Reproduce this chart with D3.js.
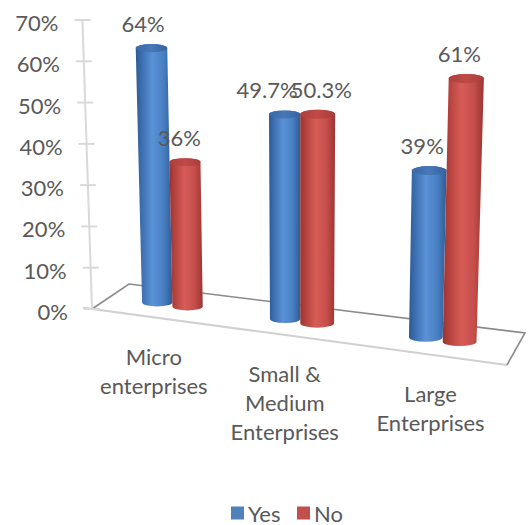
<!DOCTYPE html>
<html>
<head>
<meta charset="utf-8">
<script src="https://cdn.jsdelivr.net/npm/d3@7"></script>
<style>
  html, body { margin: 0; padding: 0; background: #ffffff; }
  svg { display: block; font-family: Lato, "Open Sans", "Liberation Sans", sans-serif; }
</style>
</head>
<body>
<svg id="chart" width="529" height="525"></svg>
<script>
// ---- data ----
const categories = ["Micro enterprises", "Small & Medium Enterprises", "Large Enterprises"];
const categoryLines = [["Micro", "enterprises"], ["Small &", "Medium", "Enterprises"], ["Large", "Enterprises"]];
const seriesNames = ["Yes", "No"];
const yesValues = [64, 49.7, 39];
const noValues = [36, 50.3, 61];
const yTicks = [0, 10, 20, 30, 40, 50, 60, 70];
const seriesColors = ["#4F81BD", "#C0504D"];

const seriesValues = { Yes: yesValues, No: noValues };
const fmtPct = v => (Number.isInteger(v) ? v : v.toFixed(1)) + "%";

const svg = d3.select("#chart");
const textColor = "#595959";
const fontSize = 22;

// ---- 3D-ish projection ----
// floor quadrilateral in screen space (back-left, back-right, front-left, front-right)
const floorQuad = { bl: [129, 284], br: [525, 333], fl: [92, 309], fr: [507, 365] };
function floorPoint(u, v) {
  const back = [floorQuad.bl[0] + (floorQuad.br[0] - floorQuad.bl[0]) * u,
                floorQuad.bl[1] + (floorQuad.br[1] - floorQuad.bl[1]) * u];
  const front = [floorQuad.fl[0] + (floorQuad.fr[0] - floorQuad.fl[0]) * u,
                 floorQuad.fl[1] + (floorQuad.fr[1] - floorQuad.fl[1]) * u];
  return [back[0] + (front[0] - back[0]) * v, back[1] + (front[1] - back[1]) * v];
}
// verticals converge slightly toward a point far below the chart
const vanishX = 300, vanishDist = 6300;
function raise(p, h) { return [p[0] + (p[0] - vanishX) * h / vanishDist, p[1] - h]; }

// value scale (pixels of height at the front-left corner) and depth gain across the floor
const y = d3.scaleLinear().domain([0, 70]).range([0, 289]);
const depthGain = d3.scaleLinear().domain([0, 1]).range([0.95, 1.06]);

// category / series positions along the floor
const x0 = d3.scaleBand().domain(categories).range([0, 1]).paddingInner(0.526).paddingOuter(0.263);
const x1 = d3.scaleBand().domain(seriesNames).range([0, x0.bandwidth()]);
const warp = d3.scaleLinear().domain([0, 0.5, 1]).range([-0.005, 0.468, 0.995]);

// ---- gradients ----
const defs = svg.append("defs");
const bodyStops = {
  Yes: [["0", "#2c5a95"], ["0.18", "#3e71b2"], ["0.45", "#5a92d7"], ["0.75", "#4a80c3"], ["1", "#2d5b96"]],
  No:  [["0", "#9a3431"], ["0.18", "#b8443f"], ["0.45", "#d75c57"], ["0.75", "#c64f4b"], ["1", "#9c3532"]]
};
const topStops = {
  Yes: [["0", "#3a68a6"], ["0.5", "#4878b8"], ["1", "#36639f"]],
  No:  [["0", "#ac3f3c"], ["0.5", "#bf4a46"], ["1", "#a83d3a"]]
};
seriesNames.forEach(s => {
  const g = defs.append("linearGradient").attr("id", "body-" + s).attr("x1", 0).attr("x2", 1).attr("y1", 0).attr("y2", 0);
  bodyStops[s].forEach(([o, c]) => g.append("stop").attr("offset", o).attr("stop-color", c));
  const t = defs.append("linearGradient").attr("id", "top-" + s).attr("x1", 0).attr("x2", 1).attr("y1", 0).attr("y2", 0);
  topStops[s].forEach(([o, c]) => t.append("stop").attr("offset", o).attr("stop-color", c));
});

// ---- floor ----
const floorG = svg.append("g");
const fq = floorQuad;
floorG.append("line")
  .attr("x1", fq.fl[0] - 9).attr("y1", fq.fl[1] - 9 * (fq.fr[1] - fq.fl[1]) / (fq.fr[0] - fq.fl[0]))
  .attr("x2", fq.fr[0]).attr("y2", fq.fr[1])
  .attr("stroke", "#d0d0d0").attr("stroke-width", 2);
floorG.append("path")
  .attr("d", d3.line()([fq.fl, fq.bl, fq.br, fq.fr]))
  .attr("fill", "none").attr("stroke", "#8a8a8a").attr("stroke-width", 1.6);

// ---- value axis ----
const axisG = svg.append("g");
const axisBase = fq.fl;
const axisTop = raise(axisBase, y(70));
axisG.append("line")
  .attr("x1", axisBase[0]).attr("y1", axisBase[1]).attr("x2", axisTop[0]).attr("y2", axisTop[1])
  .attr("stroke", "#d9d9d9").attr("stroke-width", 2);
yTicks.forEach(t => {
  const p = raise(axisBase, y(t));
  axisG.append("line")
    .attr("x1", p[0] - 8).attr("x2", p[0] + 8).attr("y1", p[1]).attr("y2", p[1])
    .attr("stroke", "#d9d9d9").attr("stroke-width", 2);
  axisG.append("text")
    .attr("x", p[0] - 24).attr("y", p[1] + 2.5)
    .attr("text-anchor", "end").attr("dominant-baseline", "central")
    .attr("fill", textColor).attr("font-size", fontSize)
    .text(t + "%");
});

// ---- cylinders ----
const ellipseRatio = 0.26;
const bars = [];
categories.forEach((cat, ci) => {
  seriesNames.forEach(s => {
    const uL = warp(x0(cat) + x1(s));
    const uR = warp(x0(cat) + x1(s) + x1.bandwidth());
    const uC = (uL + uR) / 2;
    const pL = floorPoint(uL, 0.5), pR = floorPoint(uR, 0.5);
    const base = floorPoint(uC, 0.5);
    const value = seriesValues[s][ci];
    const h = y(value) * depthGain(uC);
    const top = raise(base, h);
    const rb = (pR[0] - pL[0]) / 2;
    const rt = rb * (1 + h / vanishDist);
    bars.push({ cat, ci, s, value, base, top, rb, rt, h });
  });
});

const barG = svg.append("g");
bars.forEach(b => {
  const ryb = b.rb * ellipseRatio, ryt = b.rt * ellipseRatio;
  const [bx, by] = b.base, [tx, ty] = b.top;
  const d = `M${tx - b.rt},${ty} L${bx - b.rb},${by} A${b.rb},${ryb} 0 0 0 ${bx + b.rb},${by} ` +
            `L${tx + b.rt},${ty} A${b.rt},${ryt} 0 0 0 ${tx - b.rt},${ty} Z`;
  barG.append("path").attr("d", d).attr("fill", `url(#body-${b.s})`);
  barG.append("ellipse")
    .attr("cx", tx).attr("cy", ty).attr("rx", b.rt).attr("ry", ryt)
    .attr("fill", `url(#top-${b.s})`);
});

// ---- data labels ----
const labelG = svg.append("g");
const labelNodes = bars.map(b => {
  const t = labelG.append("text")
    .attr("x", b.top[0] - 7).attr("y", b.top[1] - 25)
    .attr("text-anchor", "middle").attr("dominant-baseline", "central")
    .attr("fill", textColor).attr("font-size", fontSize)
    .text(fmtPct(b.value));
  return { b, t, x: b.top[0] - 7, w: t.node().getComputedTextLength() };
});
// push apart labels within a group that collide
categories.forEach(cat => {
  const grp = labelNodes.filter(l => l.b.cat === cat);
  const a = grp[0], c = grp[1];
  const need = (a.w + c.w) / 2 - 7;
  const gap = c.x - a.x;
  if (gap < need) {
    const shift = (need - gap) / 2;
    a.x -= shift; c.x += shift;
    a.t.attr("x", a.x); c.t.attr("x", c.x);
  }
});

// ---- category labels ----
const catG = svg.append("g");
categories.forEach((cat, ci) => {
  const u = warp(x0(cat) + x0.bandwidth() / 2);
  const p = floorPoint(u, 1);
  const t = catG.append("text")
    .attr("text-anchor", "middle").attr("fill", textColor).attr("font-size", fontSize);
  categoryLines[ci].forEach((line, li) => {
    t.append("tspan").attr("x", p[0] - 1.5).attr("y", p[1] + 38.5 + li * 29)
      .attr("dominant-baseline", "central").text(line);
  });
});

// ---- legend ----
const legendG = svg.append("g").attr("transform", "translate(231,513)");
const legendX = d3.scaleOrdinal().domain(seriesNames).range([0, 66]);
seriesNames.forEach((s, i) => {
  const g = legendG.append("g").attr("transform", `translate(${legendX(s)},0)`);
  g.append("rect").attr("x", 0).attr("y", -6.5).attr("width", 13).attr("height", 13).attr("fill", seriesColors[i]);
  g.append("text").attr("x", 17).attr("y", 0).attr("dominant-baseline", "central")
    .attr("fill", textColor).attr("font-size", fontSize).text(s);
});
</script>
</body>
</html>
